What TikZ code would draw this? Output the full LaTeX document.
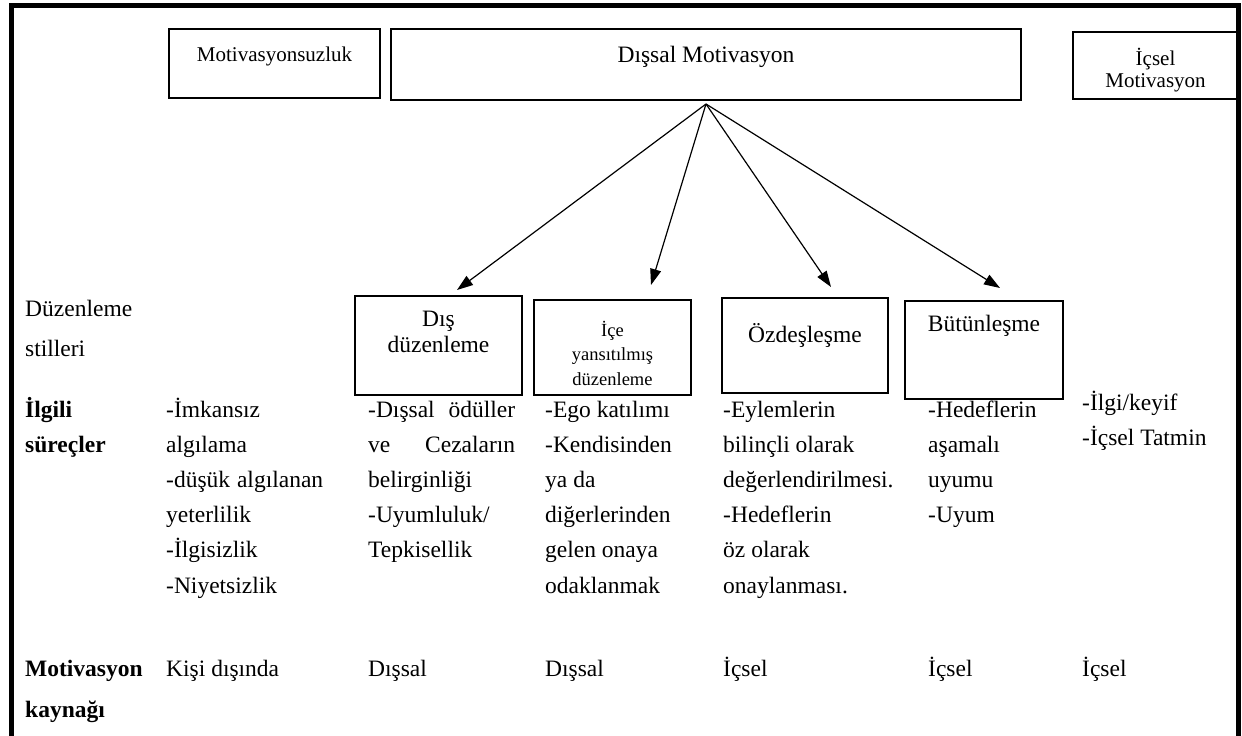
\documentclass[tikz,border=0pt]{standalone}
\usepackage{fontspec}
\setmainfont{Liberation Serif}
\usetikzlibrary{arrows.meta}
\newcommand\bodysize{\fontsize{23.5}{26}\selectfont}
\newcommand\boxsize{\fontsize{21}{22}\selectfont}
\newcommand\smallboxsize{\fontsize{18.5}{20}\selectfont}
\begin{document}
\begin{tikzpicture}[x=1pt,y=-1pt,
  frame/.style={line width=5pt, line join=miter},
  box/.style={draw, line width=1.8pt, inner sep=0pt, rectangle},
  txt/.style={anchor=base west, inner sep=0pt, font=\bodysize},
  head/.style={anchor=base west, inner sep=0pt, font=\bodysize\bfseries},
  lbl/.style={anchor=base, inner sep=0pt, font=\bodysize},
  link/.style={line width=1.2pt, -{Triangle[length=16pt,width=11pt]}}]
\useasboundingbox (0,0) rectangle (1242,736);
\fill[white] (0,0) rectangle (1242,736);

% top row: motivation types
\node[box, minimum width=211pt, minimum height=69pt] (amot) at (274.5,63.5) {};
\node[lbl, font=\boxsize] (amot-t) at (274.5,61) {Motivasyonsuzluk};
\node[box, minimum width=630pt, minimum height=71pt] (ext) at (706,64.5) {};
\node[lbl] (ext-t) at (706,62) {Dışsal Motivasyon};
\node[box, minimum width=165pt, minimum height=67pt] (intr) at (1155.5,65.5) {};
\node[lbl, font=\boxsize] (intr-t1) at (1155.5,65) {İçsel};
\node[lbl, font=\boxsize] (intr-t2) at (1155.5,87) {Motivasyon};

% regulation styles
\node[box, minimum width=167pt, minimum height=99pt] (reg1) at (438.5,345.5) {};
\node[lbl] (reg1-t1) at (438.5,326) {Dış};
\node[lbl] (reg1-t2) at (438.5,352) {düzenleme};
\node[box, minimum width=157pt, minimum height=95pt] (reg2) at (612.5,347.5) {};
\node[lbl, font=\smallboxsize] (reg2-t1) at (612.5,336) {İçe};
\node[lbl, font=\smallboxsize] (reg2-t2) at (612.5,360) {yansıtılmış};
\node[lbl, font=\smallboxsize] (reg2-t3) at (612.5,385) {düzenleme};
\node[box, minimum width=166pt, minimum height=95pt] (reg3) at (805,345.5) {};
\node[lbl] (reg3-t) at (805,342) {Özdeşleşme};
\node[box, minimum width=158pt, minimum height=98pt] (reg4) at (984,350) {};
\node[lbl] (reg4-t) at (984,331) {Bütünleşme};

% arrows from the extrinsic box
\coordinate (hub) at (706,104);
\coordinate (tip1) at (457,290);
\coordinate (tip2) at (651,285);
\coordinate (tip3) at (831,287);
\coordinate (tip4) at (1000,288);
\draw[link] (hub) -- (tip1);
\draw[link] (hub) -- (tip2);
\draw[link] (hub) -- (tip3);
\draw[link] (hub) -- (tip4);

% row headings
\node[txt] (h1a) at (25,316) {Düzenleme};
\node[txt] (h1b) at (25,356) {stilleri};
\node[head] (h2a) at (25,417) {İlgili};
\node[head] (h2b) at (25,452) {süreçler};
\node[head] (h3a) at (25,676) {Motivasyon};
\node[head] (h3b) at (25,717) {kaynağı};

% related processes
\foreach \t [count=\i from 0] in {-İmkansız, algılama,
    {\hbox to 157pt{-düşük\hfill\ algılanan}}, yeterlilik, -İlgisizlik, -Niyetsizlik}
  \node[txt] (p1-\i) at (166,417+35.2*\i) {\t};
\foreach \t [count=\i from 0] in {{\hbox to 147pt{-Dışsal\hfill\ ödüller}},
    {\hbox to 147pt{ve\hfill Cezaların}}, belirginliği, -Uyumluluk/, Tepkisellik}
  \node[txt] (p2-\i) at (368,417+35.2*\i) {\t};
\foreach \t [count=\i from 0] in {-Ego katılımı, -Kendisinden, ya da,
    diğerlerinden, gelen onaya, odaklanmak}
  \node[txt] (p3-\i) at (545,417+35.2*\i) {\t};
\foreach \t [count=\i from 0] in {-Eylemlerin, bilinçli olarak,
    değerlendirilmesi., -Hedeflerin, öz olarak, onaylanması.}
  \node[txt] (p4-\i) at (723,417+35.2*\i) {\t};
\foreach \t [count=\i from 0] in {-Hedeflerin, aşamalı, uyumu, -Uyum}
  \node[txt] (p5-\i) at (928,417+35.2*\i) {\t};
\node[txt] (p6-0) at (1082,410) {-İlgi/keyif};
\node[txt] (p6-1) at (1082,445) {-İçsel Tatmin};

% source of motivation
\node[txt] (s1) at (166,676) {Kişi dışında};
\node[txt] (s2) at (368,676) {Dışsal};
\node[txt] (s3) at (545,676) {Dışsal};
\node[txt] (s4) at (723,676) {İçsel};
\node[txt] (s5) at (928,676) {İçsel};
\node[txt] (s6) at (1082,676) {İçsel};

% outer frame, open at the bottom
\draw[frame] (11,740) -- (11,5) -- (1238,5) -- (1238,740);
\end{tikzpicture}
\end{document}
